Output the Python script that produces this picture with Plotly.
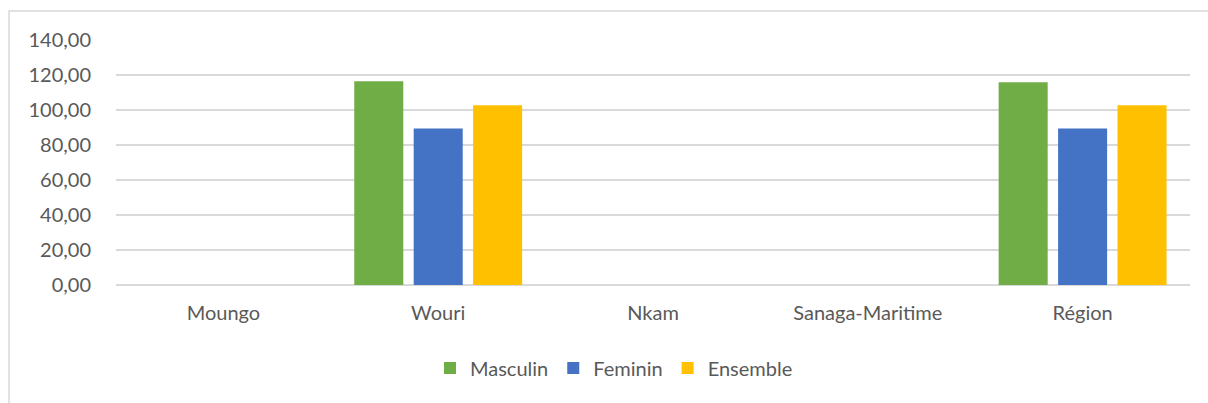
import plotly.graph_objects as go

# Data
categories = ["Moungo", "Wouri", "Nkam", "Sanaga-Maritime", "Région"]
masculin = [0, 116.4, 0, 0, 115.8]
feminin = [0, 89.5, 0, 0, 89.5]
ensemble = [0, 102.7, 0, 0, 102.7]
y_ticks = [0, 20, 40, 60, 80, 100, 120, 140]
y_tick_labels = ["0,00", "20,00", "40,00", "60,00", "80,00", "100,00", "120,00", "140,00"]

series = [
    ("Masculin", masculin, "#70AD47"),
    ("Feminin", feminin, "#4472C4"),
    ("Ensemble", ensemble, "#FFC000"),
]

FONT = "Lato, 'Liberation Sans', Arial, sans-serif"
TEXT_COLOR = "#595959"
GRID = "#D9D9D9"

fig = go.Figure()
for name, vals, color in series:
    fig.add_trace(go.Bar(
        x=categories,
        y=vals,
        name=name,
        marker=dict(color=color, line=dict(width=0)),
    ))

W, H = 1208, 403
ml, mr, mt, mb = 116, 18, 40, 118
plot_w = W - ml - mr
plot_h = H - mt - mb

fig.update_layout(
    width=W,
    height=H,
    margin=dict(l=ml, r=mr, t=mt, b=mb, pad=0),
    paper_bgcolor="white",
    plot_bgcolor="white",
    barmode="group",
    bargap=0.17,
    bargroupgap=0.175,
    font=dict(family=FONT, size=20, color=TEXT_COLOR),
    showlegend=True,
    legend=dict(
        orientation="h",
        x=0.5 - 39 / plot_w,
        xanchor="center",
        y=-83 / plot_h,
        yanchor="middle",
        font=dict(family=FONT, size=20, color=TEXT_COLOR),
        itemwidth=30,
        traceorder="normal",
    ),
    xaxis=dict(
        showgrid=False,
        showline=False,
        zeroline=False,
        ticks="",
        ticklabelstandoff=14,
        tickfont=dict(family=FONT, size=20, color=TEXT_COLOR),
    ),
    yaxis=dict(
        range=[0, 140],
        tickvals=y_ticks,
        ticktext=y_tick_labels,
        showgrid=True,
        gridcolor=GRID,
        gridwidth=1.5,
        zeroline=True,
        zerolinecolor=GRID,
        zerolinewidth=1.5,
        showline=False,
        ticks="",
        ticklabelstandoff=24,
        tickfont=dict(family=FONT, size=20, color=TEXT_COLOR),
    ),
)

# Chart-area border
fig.add_shape(
    type="rect",
    xref="paper", yref="paper",
    x0=(9 - ml) / plot_w, x1=1.2,
    y0=-1.0, y1=(plot_h + mt - 11) / plot_h,
    line=dict(color=GRID, width=1.5),
    fillcolor="rgba(0,0,0,0)",
    layer="below",
)

fig.write_html("out.html")
